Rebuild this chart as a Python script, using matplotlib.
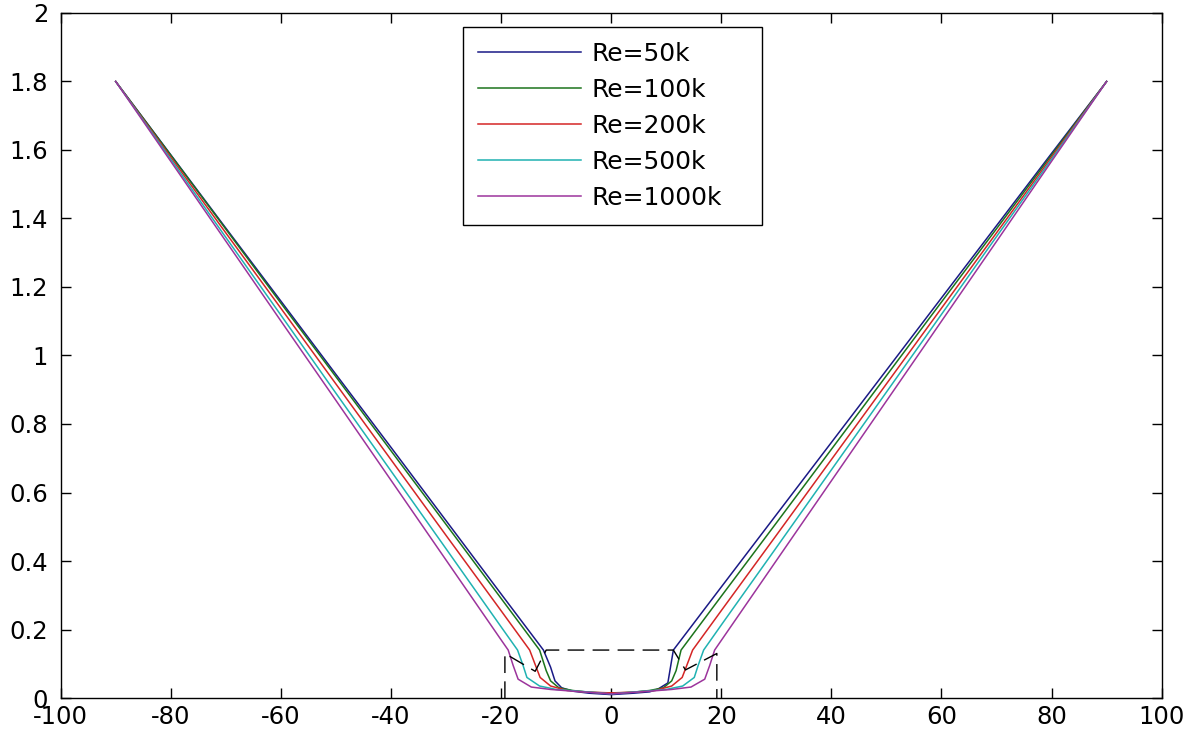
import matplotlib
matplotlib.use("Agg")
import matplotlib.pyplot as plt

plt.rcParams['font.family'] = ['DejaVu Sans']

# ---- data ----
labels = ["Re=50k", "Re=100k", "Re=200k", "Re=500k", "Re=1000k"]
colors = ["#1a1a86", "#1c741c", "#d42626", "#20b2b2", "#9c349c"]

x_50k = [-90, -80, -70, -60, -50, -40, -30, -20, -12.3, -11, -10.2, -9, -7, -4, 0,
         4, 7, 8.5, 10.3, 11.3, 20, 30, 40, 50, 60, 70, 80, 90]
y_50k = [1.80, 1.586, 1.372, 1.159, 0.945, 0.732, 0.518, 0.304, 0.14, 0.09, 0.05, 0.03, 0.02, 0.014, 0.010,
         0.014, 0.018, 0.026, 0.044, 0.14, 0.324, 0.535, 0.746, 0.957, 1.168, 1.379, 1.590, 1.80]

x_100k = [-90, -80, -70, -60, -50, -40, -30, -20, -13.0, -11.8, -11, -9.5, -7, -4, 0,
          4, 7, 9.5, 11, 11.8, 12.7, 20, 30, 40, 50, 60, 70, 80, 90]
y_100k = [1.80, 1.585, 1.369, 1.153, 0.938, 0.722, 0.507, 0.291, 0.14, 0.08, 0.05, 0.03, 0.022, 0.017, 0.014,
          0.017, 0.022, 0.03, 0.05, 0.08, 0.14, 0.297, 0.511, 0.726, 0.941, 1.156, 1.370, 1.585, 1.80]

x_200k = [-90, -80, -70, -60, -50, -40, -30, -20, -14.8, -13.5, -12.9, -11, -8, -4, 0,
          4, 8, 11, 12.9, 13.5, 14.8, 20, 30, 40, 50, 60, 70, 80, 90]
y_200k = [1.80, 1.579, 1.358, 1.138, 0.917, 0.696, 0.475, 0.255, 0.14, 0.085, 0.06, 0.035, 0.022, 0.017, 0.015,
          0.017, 0.022, 0.035, 0.06, 0.085, 0.14, 0.255, 0.475, 0.696, 0.917, 1.138, 1.358, 1.579, 1.80]

x_500k = [-90, -80, -70, -60, -50, -40, -30, -20, -17.0, -16, -15.3, -13, -10, -6, 0,
          6, 10, 13, 15.1, 15.8, 16.8, 20, 30, 40, 50, 60, 70, 80, 90]
y_500k = [1.80, 1.573, 1.345, 1.118, 0.890, 0.663, 0.436, 0.208, 0.14, 0.095, 0.06, 0.035, 0.025, 0.02, 0.012,
          0.02, 0.025, 0.035, 0.06, 0.095, 0.14, 0.213, 0.439, 0.666, 0.893, 1.120, 1.347, 1.573, 1.80]

x_1000k = [-90, -80, -70, -60, -50, -40, -30, -20, -18.7, -17.8, -16.9, -14.5, -11, -7, 0,
           7, 11, 14.5, 17.0, 17.9, 18.8, 20, 30, 40, 50, 60, 70, 80, 90]
y_1000k = [1.80, 1.567, 1.334, 1.101, 0.869, 0.636, 0.403, 0.170, 0.14, 0.095, 0.055, 0.032, 0.025, 0.02, 0.012,
           0.02, 0.025, 0.032, 0.055, 0.095, 0.14, 0.168, 0.401, 0.634, 0.867, 1.100, 1.333, 1.567, 1.80]

# dashed zoom-outline
box_x = [-19.3, -19.3, -13.8, -11.8, 11.3, 13.5, 19.2, 19.2]
box_y = [0.0, 0.13, 0.078, 0.14, 0.14, 0.082, 0.13, 0.0]

xticks = [-100, -80, -60, -40, -20, 0, 20, 40, 60, 80, 100]
yticks = [0, 0.2, 0.4, 0.6, 0.8, 1.0, 1.2, 1.4, 1.6, 1.8, 2.0]
ytick_labels = ["0", "0.2", "0.4", "0.6", "0.8", "1", "1.2", "1.4", "1.6", "1.8", "2"]

series_x = [x_50k, x_100k, x_200k, x_500k, x_1000k]
series_y = [y_50k, y_100k, y_200k, y_500k, y_1000k]

# ---- figure ----
fig = plt.figure(figsize=(11.89, 7.37), dpi=100)
ax = fig.add_axes([0.051, 0.0529, 0.926, 0.9295])

for xs, ys, c, lab in zip(series_x, series_y, colors, labels):
    ax.plot(xs, ys, color=c, lw=1.1, label=lab)

ax.plot(box_x, box_y, color="black", lw=1.0, linestyle=(0, (12, 6)))

ax.set_xlim(-100, 100)
ax.set_ylim(0, 2)
ax.set_xticks(xticks)
ax.set_xticklabels([str(t) for t in xticks])
ax.set_yticks(yticks)
ax.set_yticklabels(ytick_labels)
ax.tick_params(direction="in", length=7, width=1.0, top=True, right=True,
               labelsize=17.5, colors="black")
ax.tick_params(axis="x", pad=5)
ax.tick_params(axis="y", pad=9)
for s in ax.spines.values():
    s.set_linewidth(1.0)
    s.set_color("black")

leg = ax.legend(loc="upper left", bbox_to_anchor=(0.365, 0.5, 0.272, 0.4796),
                mode="expand", borderaxespad=0,
                fontsize=18, handlelength=4.15, handletextpad=0.4, labelspacing=0.48,
                borderpad=0.6, fancybox=False, framealpha=1, edgecolor="black")
leg.get_frame().set_linewidth(1.0)

fig.savefig("out.png", dpi=100)
